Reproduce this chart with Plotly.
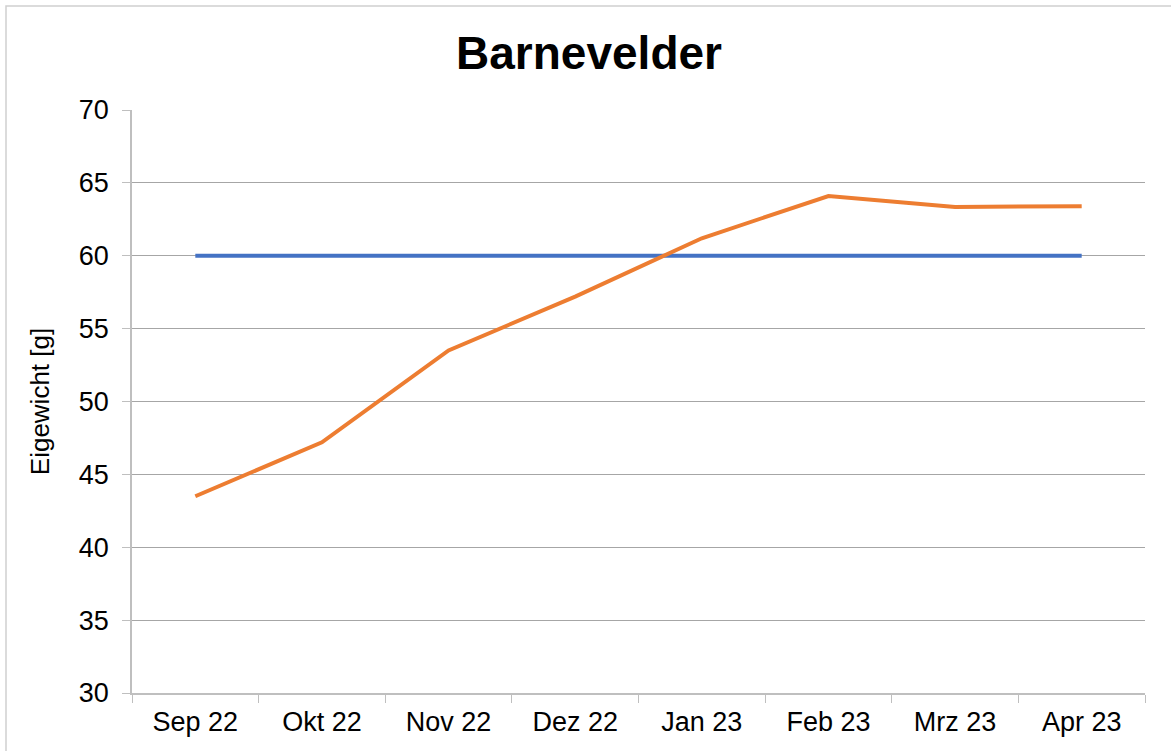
import plotly.graph_objects as go

categories = ["Sep 22", "Okt 22", "Nov 22", "Dez 22", "Jan 23", "Feb 23", "Mrz 23", "Apr 23"]
target = [60, 60, 60, 60, 60, 60, 60, 60]
eigewicht = [43.5, 47.2, 53.5, 57.2, 61.2, 64.1, 63.35, 63.4]
y_ticks = [30, 35, 40, 45, 50, 55, 60, 65, 70]

fig = go.Figure()
fig.add_trace(go.Scatter(x=categories, y=target, mode="lines",
                         line=dict(color="#4472C4", width=4), name="Soll"))
fig.add_trace(go.Scatter(x=categories, y=eigewicht, mode="lines",
                         line=dict(color="#ED7D31", width=4), name="Eigewicht"))

fig.update_layout(
    width=1171, height=751,
    margin=dict(l=132, r=26, t=110, b=58),
    paper_bgcolor="white", plot_bgcolor="white",
    showlegend=False,
    font=dict(family="Liberation Sans, Arial, sans-serif", color="black"),
    title=dict(text="<b>Barnevelder</b>", font=dict(size=46, color="black"),
               x=0.503, xref="container", xanchor="center",
               y=1 - 53 / 751, yref="container", yanchor="middle"),
    xaxis=dict(type="category", tickson="boundaries", ticks="outside", ticklen=8,
               tickcolor="#bfbfbf", showline=True, linecolor="#bfbfbf", linewidth=1.5,
               showgrid=False, tickfont=dict(size=27), range=[-0.5, 7.5],
               ticklabelstandoff=4),
    yaxis=dict(range=[30, 70], tickvals=y_ticks, ticks="outside", ticklen=8,
               tickcolor="#bfbfbf", showline=True, linecolor="#bfbfbf", linewidth=1.5,
               showgrid=True, gridcolor="#a6a6a6", gridwidth=1.2, zeroline=False,
               tickfont=dict(size=27), ticklabelstandoff=8,
               title=dict(text="Eigewicht [g]", font=dict(size=26), standoff=22)),
    shapes=[dict(type="rect", xref="paper", yref="paper",
                 x0=(6 - 132) / 1013, x1=1.2, y0=-0.3, y1=(693 - 6) / 583,
                 line=dict(color="#d0d0d0", width=1.5), layer="below")],
)

fig.write_html("out.html", config={"displayModeBar": False},
               post_script="document.body.style.margin='0px';")
